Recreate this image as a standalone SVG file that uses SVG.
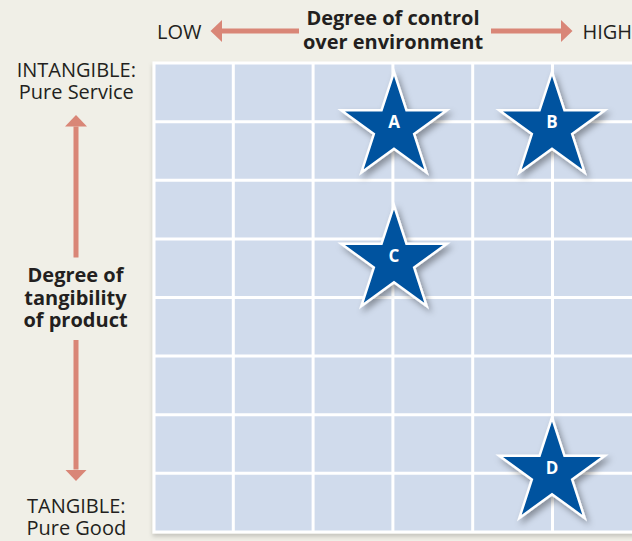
<svg xmlns="http://www.w3.org/2000/svg" xmlns:xlink="http://www.w3.org/1999/xlink" width="632" height="541" viewBox="0 0 632 541">
<defs>
<style>
.lbl{font-family:"Open Sans","Liberation Sans",sans-serif;font-size:20px;fill:#231f20;text-anchor:middle}
.bold{font-weight:bold;font-size:20px}
.star{fill:#00539f;stroke:#ffffff;stroke-width:2.5;stroke-linejoin:miter}
.slbl{font-family:"Open Sans","Liberation Sans",sans-serif;font-size:17px;font-weight:bold;fill:#ffffff;text-anchor:middle}
.arrow{stroke:#d98677;stroke-width:5;fill:none;marker-end:url(#head)}
.gl{stroke:#ffffff;stroke-width:3}
</style>
<marker id="head" markerUnits="userSpaceOnUse" markerWidth="12" markerHeight="22" viewBox="0 0 12 22" refX="0" refY="11" orient="auto">
<path d="M0,0 L11.5,11 L0,22 Z" fill="#d98677"/>
</marker>
<path id="starShape" d="M0,-55.5 L12.46,-17.15 L52.78,-17.15 L20.16,6.55 L32.62,44.9 L0,21.2 L-32.62,44.9 L-20.16,6.55 L-52.78,-17.15 L-12.46,-17.15 Z"/>
<filter id="shadow" x="-30%" y="-30%" width="160%" height="160%">
<feDropShadow dx="3" dy="4" stdDeviation="3" flood-color="#000" flood-opacity="0.35"/>
</filter>
<filter id="gshadow" x="-5%" y="-5%" width="110%" height="110%">
<feDropShadow dx="0" dy="3" stdDeviation="2" flood-color="#000" flood-opacity="0.18"/>
</filter>
</defs>
<rect width="632" height="541" fill="#f0efe7"/>
<g id="grid">
<rect x="154" y="63" width="500" height="469" fill="#d0dbec" stroke="#ffffff" stroke-width="3" filter="url(#gshadow)"/>
<g class="gl">
<line x1="233.3" y1="63" x2="233.3" y2="532"/>
<line x1="313.1" y1="63" x2="313.1" y2="532"/>
<line x1="392.9" y1="63" x2="392.9" y2="532"/>
<line x1="472.7" y1="63" x2="472.7" y2="532"/>
<line x1="552.5" y1="63" x2="552.5" y2="532"/>
<line x1="154" y1="121.7" x2="632" y2="121.7"/>
<line x1="154" y1="180.3" x2="632" y2="180.3"/>
<line x1="154" y1="238.9" x2="632" y2="238.9"/>
<line x1="154" y1="297.5" x2="632" y2="297.5"/>
<line x1="154" y1="356.1" x2="632" y2="356.1"/>
<line x1="154" y1="414.7" x2="632" y2="414.7"/>
<line x1="154" y1="473.3" x2="632" y2="473.3"/>
</g>
</g>
<g id="connectors">
<line class="arrow" x1="299" y1="31" x2="222" y2="31"/>
<line class="arrow" x1="491" y1="31" x2="561" y2="31"/>
<line class="arrow" x1="76" y1="257.5" x2="76" y2="126.5"/>
<line class="arrow" x1="76" y1="340" x2="76" y2="469.5"/>
</g>
<g id="top-axis-labels">
<text class="lbl" x="179.3" y="38.5">LOW</text>
<text class="lbl" x="582.5" y="38.5" style="text-anchor:start">HIGH</text>
<text class="lbl bold" x="393" y="25">Degree of control</text>
<text class="lbl bold" x="393" y="49">over environment</text>
</g>
<g id="left-axis-labels">
<text class="lbl" x="76.3" y="76.7">INTANGIBLE:</text>
<text class="lbl" x="76.3" y="99">Pure Service</text>
<text class="lbl bold" x="75.5" y="282">Degree of</text>
<text class="lbl bold" x="75.5" y="304.5">tangibility</text>
<text class="lbl bold" x="75.5" y="327">of product</text>
<text class="lbl" x="76.3" y="513.3">TANGIBLE:</text>
<text class="lbl" x="76.3" y="535">Pure Good</text>
</g>
<g id="star-A" transform="translate(394,127.5)">
<use xlink:href="#starShape" class="star" filter="url(#shadow)"/>
<text class="slbl" x="0" y="0.5">A</text>
</g>
<g id="star-B" transform="translate(552,127.5)">
<use xlink:href="#starShape" class="star" filter="url(#shadow)"/>
<text class="slbl" x="0" y="0.5">B</text>
</g>
<g id="star-C" transform="translate(394,261)">
<use xlink:href="#starShape" class="star" filter="url(#shadow)"/>
<text class="slbl" x="0" y="0.5">C</text>
</g>
<g id="star-D" transform="translate(552,473)">
<use xlink:href="#starShape" class="star" filter="url(#shadow)"/>
<text class="slbl" x="0" y="0.5">D</text>
</g>
</svg>
